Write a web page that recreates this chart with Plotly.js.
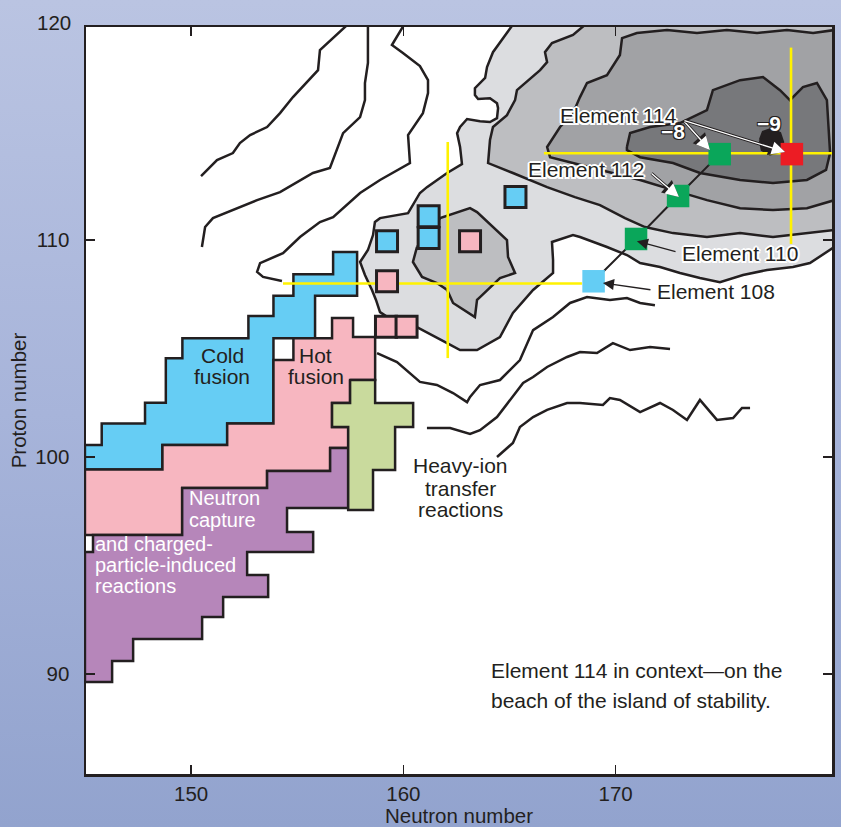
<!DOCTYPE html>
<html><head><meta charset="utf-8">
<script src="https://cdn.plot.ly/plotly-3.0.1.min.js"></script>
<style>
html,body{margin:0;padding:0;width:841px;height:827px;overflow:hidden;background:linear-gradient(to bottom,#bac4e2 0%,#a7b4da 50%,#92a3ce 100%)}
#chart{width:841px;height:827px}
</style></head><body><div id="chart"></div>
<script>
// ---- stability contours (neutron number N, proton number Z) ----
const zoneLight = [[165.21,120.0],[180.3,120.0],[180.3,109.68],[179.15,108.94],[178.35,108.76],[177.13,108.62],[176.0,108.39],[174.91,108.06],[173.97,108.25],[173.03,108.48],[172.09,108.76],[171.15,108.94],[170.53,109.31],[169.59,109.68],[168.32,110.14],[167.99,110.23],[167.0,109.91],[167.05,109.08],[167.05,108.48],[166.11,107.70],[165.16,106.64],[164.55,105.53],[163.47,104.93],[162.67,104.93],[162.06,105.25],[160.64,105.99],[159.61,106.22],[158.90,106.68],[158.71,107.24],[158.52,107.70],[158.19,108.39],[157.96,108.99],[158.33,109.54],[158.57,110.23],[158.66,110.83],[158.90,111.01],[160.22,111.24],[160.45,111.61],[160.78,112.17],[161.11,112.44],[162.06,113.09],[162.76,113.50],[162.67,114.29],[162.53,114.93],[162.67,115.21],[163.0,115.58],[163.61,115.48],[164.08,115.44],[164.41,115.62],[164.46,116.08],[164.41,116.31],[164.08,116.54],[163.52,116.50],[163.37,116.68],[163.37,117.0],[163.85,117.47],[163.94,117.97],[164.22,118.66],[165.21,120.0]];
const zoneMid = [[168.65,120.0],[180.3,120.0],[180.3,110.46],[179.01,110.32],[177.41,110.14],[175.86,110.32],[174.30,110.14],[172.70,110.32],[171.38,110.60],[170.44,111.01],[169.26,111.61],[168.08,111.98],[166.77,112.44],[165.16,113.09],[163.99,113.55],[164.08,114.61],[164.22,115.21],[164.88,115.76],[165.26,116.45],[165.35,116.91],[166.44,117.83],[166.77,118.20],[166.67,118.66],[167.0,119.08],[167.99,119.45],[168.65,120.0]];
const zoneInner = [[160.64,109.68],[161.73,111.01],[163.14,111.47],[163.47,111.29],[164.88,110.0],[164.93,109.22],[165.26,108.48],[164.55,108.25],[163.61,107.37],[163.47,107.24],[163.37,106.45],[163.23,106.54],[162.34,107.10],[162.06,107.70],[161.58,108.02],[160.88,108.30],[160.45,108.99],[160.64,109.68]];
const zoneDark = [[180.3,119.68],[179.30,119.54],[178.07,119.68],[176.66,119.54],[175.24,119.68],[173.83,119.54],[172.42,119.68],[171.0,119.54],[170.30,119.31],[170.20,118.53],[169.59,117.60],[168.65,117.24],[168.32,116.59],[167.99,115.85],[167.38,115.21],[166.77,114.29],[166.91,113.82],[167.99,113.55],[169.87,113.09],[171.15,112.77],[173.03,112.21],[174.30,111.84],[175.86,111.47],[177.41,111.38],[179.01,111.47],[180.3,111.84],[180.3,119.68]];
const zoneDarker = [[170.53,114.29],[170.68,114.93],[171.62,115.21],[173.03,115.39],[174.30,115.99],[174.58,116.91],[175.86,117.37],[176.94,117.51],[177.74,116.91],[178.21,116.45],[178.82,117.05],[179.48,117.24],[179.95,116.45],[180.05,114.93],[180.10,114.01],[179.91,113.23],[179.01,112.77],[177.41,112.63],[175.86,112.77],[173.97,113.09],[172.70,113.55],[171.15,113.82],[170.53,114.15],[170.53,114.29]];
const zoneCore = [[176.80,114.61],[176.94,114.98],[177.36,115.12],[177.74,114.93],[177.88,114.52],[177.79,114.06],[177.27,113.96],[176.89,114.15],[176.80,114.61]];

// ---- open contour lines ----
const ridge1 = [[150.47,112.95],[151.22,113.69],[151.97,114.01],[152.30,114.47],[152.78,114.84],[153.58,115.21],[154.19,115.85],[154.80,116.59],[155.98,117.83],[156.07,118.76],[157.45,120.0]];
const ridge2 = [[150.51,109.68],[150.66,110.60],[151.03,111.01],[151.97,111.38],[153.11,111.84],[154.19,112.21],[155.74,113.09],[156.54,113.32],[157.16,114.93],[157.96,115.67],[158.19,116.45],[158.19,117.24],[158.33,118.16],[158.33,120.0]];
const ridge3 = [[154.28,108.11],[153.39,108.30],[153.11,108.53],[153.25,108.94],[154.33,109.40],[155.13,110.14],[156.07,110.83],[156.69,111.06],[157.96,112.17],[158.90,112.77],[160.31,113.55],[160.22,114.84],[160.92,115.85],[161.16,116.77],[161.16,117.37],[160.78,118.02],[159.98,118.62],[159.46,118.99],[160.08,120.0]];
const shore1 = [[158.76,104.79],[159.70,104.38],[160.78,103.46],[161.58,103.32],[162.34,102.95],[163.0,102.53],[163.14,102.77],[163.61,103.32],[164.55,103.55],[165.49,104.47],[166.11,105.85],[167.05,106.45],[167.85,107.10],[168.65,107.37],[169.73,107.24],[170.53,107.33],[171.15,107.10],[171.85,107.0]];
const shore2 = [[161.11,101.34],[162.20,101.34],[163.14,101.06],[163.61,101.24],[164.41,101.84],[165.16,102.77],[165.64,103.41],[166.11,103.69],[166.77,104.15],[167.71,104.61],[168.32,104.84],[169.12,104.79],[169.87,105.25],[170.68,104.93],[171.62,105.07],[172.56,104.98]];
const shore3 = [[164.41,100.0],[165.16,100.65],[165.49,101.38],[166.11,101.84],[166.77,102.17],[167.71,102.49],[168.32,102.49],[169.40,102.40],[169.73,102.72],[170.20,102.63],[171.15,102.07],[172.09,102.49],[172.70,102.17],[173.36,101.71],[173.97,102.63],[174.77,101.71],[175.53,101.80],[175.95,102.26],[176.33,102.26]];

// ---- production-reaction regions ----
const coldFusion = [[145.0,99.43],[145.0,100.55],[145.79,100.55],[145.79,101.55],[147.83,101.55],[147.83,102.50],[148.81,102.50],[148.81,104.55],[149.59,104.55],[149.59,105.47],[152.70,105.47],[152.70,106.50],[153.88,106.50],[153.88,107.43],[154.82,107.43],[154.82,108.42],[156.69,108.42],[156.69,109.45],[157.82,109.45],[157.82,107.43],[155.84,107.43],[155.84,105.47],[153.88,105.47],[153.88,101.55],[151.70,101.55],[151.70,100.55],[148.65,100.55],[148.65,99.43],[145.0,99.43]];
const hotFusion = [[145.0,99.43],[148.65,99.43],[148.65,100.55],[151.70,100.55],[151.70,101.55],[153.88,101.55],[153.88,104.47],[154.82,104.47],[154.82,105.47],[156.64,105.47],[156.64,106.41],[157.63,106.41],[157.63,105.53],[158.67,105.53],[158.67,103.55],[157.49,103.55],[157.49,102.49],[156.64,102.49],[156.64,101.38],[157.40,101.38],[157.40,100.41],[156.55,100.41],[156.55,99.35],[153.58,99.35],[153.58,98.57],[149.58,98.57],[149.58,96.41],[145.0,96.41],[145.0,99.43]];
const neutronCapture = [[145.0,95.62],[145.38,95.62],[145.38,96.41],[149.58,96.41],[149.58,98.57],[153.58,98.57],[153.58,99.35],[156.55,99.35],[156.55,100.41],[157.40,100.41],[157.40,97.65],[154.52,97.65],[154.52,96.54],[155.75,96.54],[155.75,95.62],[152.64,95.62],[152.64,94.56],[153.63,94.56],[153.63,93.55],[151.51,93.55],[151.51,92.63],[150.52,92.63],[150.52,91.61],[147.27,91.61],[147.27,90.60],[146.28,90.60],[146.28,89.63],[145.0,89.63],[145.0,95.62]];
const heavyIon = [[157.49,103.55],[158.67,103.55],[158.67,102.49],[160.46,102.49],[160.46,101.38],[159.61,101.38],[159.61,99.40],[158.57,99.40],[158.57,97.56],[157.40,97.56],[157.40,101.38],[156.64,101.38],[156.64,102.49],[157.49,102.49],[157.49,103.55]];

// ---- isotopes ----
const blueN = [159.23, 161.19, 161.19, 165.28];
const blueZ = [109.95, 111.10, 110.10, 111.98];
const pinkN = [163.14, 159.23, 159.18, 160.15];
const pinkZ = [109.95, 108.10, 106.00, 106.00];
const chainN = [168.96, 170.96, 172.94, 174.90];
const chainZ = [108.10, 110.05, 112.03, 113.96];
const chainColor = ['#64cdf4', '#0aa65a', '#0aa65a', '#0aa65a'];
const islandN = [178.30];
const islandZ = [113.96];

// ---- yellow cross-hairs ----
const crossAN = [162.09, 162.09], crossAZ = [104.56, 114.52];
const crossBN = [154.33, 168.41], crossBZ = [108.0, 108.0];
const crossCN = [178.26, 178.26], crossCZ = [109.82, 118.87];
const crossDN = [166.62, 180.6], crossDZ = [114.0, 114.0];

const xTicks = [150, 160, 170];
const yTicks = [90, 100, 110];

const INK = '#231f20';
const FONT = 'Liberation Sans, Arial, Helvetica, sans-serif';

function poly(pts, fill) {
  return {x: pts.map(p => p[0]), y: pts.map(p => p[1]), mode: 'lines', fill: 'toself',
    fillcolor: fill, line: {color: INK, width: 2.5}, hoverinfo: 'skip'};
}
function path(pts, color, w) {
  return {x: pts.map(p => p[0]), y: pts.map(p => p[1]), mode: 'lines',
    line: {color: color || INK, width: w || 2.5}, hoverinfo: 'skip'};
}
function seg(xs, ys, color, w) {
  return {x: xs, y: ys, mode: 'lines', line: {color: color, width: w}, hoverinfo: 'skip'};
}

const traces = [
  poly(zoneLight, '#dcdde0'),
  poly(zoneMid, '#bdbec1'),
  poly(zoneInner, '#bdbec1'),
  poly(zoneDark, '#a1a2a5'),
  poly(zoneDarker, '#77787b'),
  poly(zoneCore, INK),
  path(ridge1), path(ridge2), path(ridge3),
  path(shore1), path(shore2), path(shore3),
  poly(coldFusion, '#66cdf4'),
  poly(hotFusion, '#f7b6c0'),
  poly(neutronCapture, '#b686ba'),
  poly(heavyIon, '#c9da9d'),
  seg(crossAN, crossAZ, '#fff200', 2.6),
  seg(crossBN, crossBZ, '#fff200', 2.6),
  seg(crossCN, crossCZ, '#fff200', 2.6),
  seg(crossDN, crossDZ, '#fff200', 2.6),
  {x: chainN, y: chainZ, mode: 'lines', line: {color: INK, width: 2}, hoverinfo: 'skip'},
  {x: blueN, y: blueZ, mode: 'markers', marker: {symbol: 'square', size: 21, color: '#66cdf4', line: {color: INK, width: 3}}, hoverinfo: 'skip'},
  {x: pinkN, y: pinkZ, mode: 'markers', marker: {symbol: 'square', size: 21, color: '#f7b6c0', line: {color: INK, width: 3}}, hoverinfo: 'skip'},
  {x: chainN, y: chainZ, mode: 'markers', marker: {symbol: 'square', size: 22.5, color: chainColor, line: {width: 0}}, hoverinfo: 'skip'},
  {x: islandN, y: islandZ, mode: 'markers', marker: {symbol: 'square', size: 22.5, color: '#ec1c24', line: {width: 0}}, hoverinfo: 'skip'}
];

const halo = '-1.5px -1.5px 0 #fff, 1.5px -1.5px 0 #fff, -1.5px 1.5px 0 #fff, 1.5px 1.5px 0 #fff, 0 2px 0 #fff, 0 -2px 0 #fff, 2px 0 0 #fff, -2px 0 0 #fff';
const darkHalo = '-1px -1px 0 #231f20, 1px -1px 0 #231f20, -1px 1px 0 #231f20, 1px 1px 0 #231f20';

function lab(text, x, y, o) {
  o = o || {};
  return Object.assign({text: text, x: x, y: y, xref: 'x', yref: 'y', showarrow: false,
    xanchor: o.xanchor || 'center', yanchor: 'middle',
    font: Object.assign({family: FONT, size: 21, color: o.color || INK}, o.font || {})}, o.extra || {});
}
function arrow(hx, hy, tx, ty, color, w, size) {
  return {text: '', x: hx, y: hy, ax: tx, ay: ty, xref: 'x', yref: 'y', axref: 'x', ayref: 'y',
    showarrow: true, arrowhead: 2, arrowsize: size, arrowwidth: w, arrowcolor: color,
    standoff: 0, startstandoff: 0};
}

const white20 = {xanchor: 'left', color: '#ffffff', font: {size: 20}};

const annotations = [
  // arrows
  arrow(174.44, 114.15, 173.17, 115.53, INK, 3, 1.1),
  arrow(174.44, 114.15, 173.17, 115.53, '#ffffff', 1.4, 1.9),
  arrow(177.98, 114.06, 173.17, 115.53, INK, 3, 1.1),
  arrow(177.98, 114.06, 173.17, 115.53, '#ffffff', 1.4, 1.9),
  arrow(172.98, 111.98, 171.62, 113.13, INK, 3, 1.1),
  arrow(172.98, 111.98, 171.62, 113.13, '#ffffff', 1.4, 1.9),
  arrow(171.0, 109.95, 172.89, 109.45, INK, 1.3, 1.7),
  arrow(169.40, 108.02, 171.71, 107.70, INK, 1.3, 1.7),
  // element labels
  lab('Element 114', 170.11, 115.76, {font: {shadow: halo}}),
  lab('Element 112', 168.60, 113.23, {font: {shadow: halo}}),
  lab('Element 110', 175.86, 109.40, {font: {shadow: halo}}),
  lab('Element 108', 174.73, 107.65),
  lab('\u22128', 172.68, 115.02, {color: '#ffffff', font: {shadow: darkHalo, weight: 'bold', size: 21}}),
  lab('\u22129', 177.22, 115.35, {color: '#ffffff', font: {shadow: darkHalo, weight: 'bold', size: 21}}),
  // region labels
  lab('Cold', 151.46, 104.70),
  lab('fusion', 151.46, 103.73),
  lab('Hot', 155.88, 104.70),
  lab('fusion', 155.88, 103.73),
  lab('Neutron', 149.80, 98.11, white20),
  lab('capture', 149.80, 97.10, white20),
  lab('and charged-', 145.40, 95.99, white20),
  lab('particle-induced', 145.40, 95.02, white20),
  lab('reactions', 145.40, 94.06, white20),
  lab('Heavy-ion', 162.71, 99.59),
  lab('transfer', 162.71, 98.57),
  lab('reactions', 162.71, 97.60),
  lab('Element 114 in context\u2014on the', 164.04, 90.18, {xanchor: 'left'}),
  lab('beach of the island of stability.', 164.04, 88.80, {xanchor: 'left'}),
  // top y tick label (axis range ends just below 120)
  {text: '120', x: 0, xref: 'paper', y: 1.006, yref: 'paper', xanchor: 'right', yanchor: 'middle',
   xshift: -13, showarrow: false, font: {family: FONT, size: 20.5, color: INK}}
];

const axisCommon = {
  ticks: 'inside', ticklen: 9, tickwidth: 1.2, tickcolor: INK,
  showline: true, linecolor: INK, linewidth: 2.5, mirror: 'ticks',
  showgrid: false, zeroline: false, fixedrange: true,
  tickfont: {family: FONT, size: 20.5, color: INK}
};

const layout = {
  width: 841, height: 827,
  margin: {l: 86, r: 9, t: 27, b: 53},
  paper_bgcolor: 'rgba(0,0,0,0)', plot_bgcolor: '#ffffff',
  showlegend: false, hovermode: false,
  font: {family: FONT, color: INK},
  xaxis: Object.assign({}, axisCommon, {range: [145.05, 180.19], tickvals: xTicks, ticklabelstandoff: 0,
    title: {text: 'Neutron number', font: {family: FONT, size: 20.5, color: INK}, standoff: 18}}),
  yaxis: Object.assign({}, axisCommon, {range: [85.39, 119.82], tickvals: yTicks, ticklabelstandoff: 10,
    title: {text: 'Proton number', font: {family: FONT, size: 20.5, color: INK}, standoff: 3}}),
  annotations: annotations
};

Plotly.newPlot('chart', traces, layout, {staticPlot: true, displayModeBar: false});
</script></body></html>
